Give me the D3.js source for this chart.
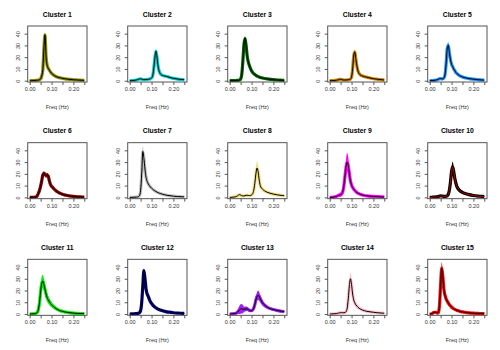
<!DOCTYPE html>
<html><head><meta charset="utf-8">
<script src="https://cdn.jsdelivr.net/npm/d3@7"></script>
<style>body{margin:0;background:#fff}svg{display:block}</style>
</head><body><svg id="c" width="500" height="350"></svg>
<script>
const freq = [0,0.01,0.02,0.03,0.035,0.04,0.045,0.05,0.055,0.06,0.065,0.07,0.075,0.08,0.085,0.09,0.095,0.10,0.105,0.11,0.115,0.12,0.125,0.13,0.135,0.14,0.15,0.16,0.17,0.18,0.20,0.22,0.24,0.25];
const clusterNames = ["Cluster 1","Cluster 2","Cluster 3","Cluster 4","Cluster 5","Cluster 6","Cluster 7","Cluster 8","Cluster 9","Cluster 10","Cluster 11","Cluster 12","Cluster 13","Cluster 14","Cluster 15"];
const bandColors = ["#8B8B00","#00CDCD","#006400","#CD8500","#1E90FF","#8B0000","#BEBEBE","#EEDD82","#FF00FF","#000000","#00EE00","#000080","#A020F0","#FFC0CB","#FF0000"];
const meanColors = ["#000","#000","#000","#000","#000","#000","#000","#000","#000","#B00000","#000","#000","#000","#000","#000"];
const xTicks = [0,0.05,0.10,0.15,0.20,0.25];
const xTickLabels = ["0.00","","0.10","","0.20",""];
const yTicks = [0,10,20,30,40];
const xLabel = "Freq (Hz)";

const mean1 = [0,0,0.2,0.3,0.4,0.5,0.8,1.5,4,9,27,39,20,13,10.5,9,7.5,6.3,5.5,4.7,4.1,3.6,3.2,2.9,2.6,2.4,2,1.7,1.4,1.2,0.8,0.6,0.4,0.3];
const mean2 = [0,0.1,0.3,0.6,0.9,1.2,1.5,1.6,1.3,1.0,0.9,0.9,1.0,1.1,1.2,1.4,1.7,2.3,4,10,19,25,20,12,8,6,4.5,4,3.6,3.0,2,1.4,1,0.8];
const mean3 = [0,0,0.1,0.2,0.3,0.3,0.6,1.5,5,16,30,36,30,21,16,13,10.5,8.5,7,6,5.2,4.5,4,3.5,3.1,2.8,2.3,1.9,1.6,1.3,0.9,0.6,0.4,0.3];
const mean4 = [0,0.1,0.2,0.4,0.6,0.8,1.1,1.2,1.0,0.7,0.6,0.6,0.6,0.7,0.8,1.0,1.4,3,10,21,24.5,18,12,8,6,5,4,3.4,3.0,2.5,1.7,1.2,0.8,0.6];
const mean5 = [0,0.1,0.3,0.6,0.9,1.3,1.7,1.8,1.6,1.6,2.2,5,14,27,30,24,18,14,12,10,8.5,7,6,5.2,4.5,4,3.2,2.6,2.2,1.8,1.3,0.9,0.6,0.5];
const mean6 = [0,0,0.1,0.5,1.5,3.5,6,9.5,14,19,20.5,19.5,18.5,19,18,14,11,9.5,8.5,7.5,6.5,5.7,5,4.4,3.9,3.4,2.7,2.1,1.7,1.3,0.8,0.5,0.3,0.2];
const mean7 = [0,0,0.1,0.2,0.3,0.6,1.5,6,20,39,33,24,17,13.5,11.5,10,8.8,7.8,7,6.2,5.6,5,4.5,4,3.6,3.3,2.7,2.2,1.8,1.5,1,0.7,0.5,0.4];
const mean8 = [0,0.1,0.3,0.7,1.2,2,2.3,2,1.5,1.2,1.2,1.4,1.7,1.8,1.6,1.5,1.6,2,3,6,12,20,25,22,15,10,7,5.5,4.5,3.8,2.8,2.1,1.6,1.4];
const mean9 = [0,0.1,0.3,0.8,1.2,1.6,2,2.4,3,5,10,18,26,30,27,20,14,10.5,8.5,7,5.8,4.8,4,3.5,3,2.6,2,1.6,1.3,1.1,0.8,0.6,0.4,0.3];
const mean10 = [0,0.1,0.2,0.4,0.6,0.8,1.1,1.3,1.2,1.0,0.9,0.9,1.0,1.3,2.5,6,13,22,26,22,16,12,9,7.5,6.3,5.4,4.2,3.4,2.8,2.3,1.6,1.1,0.8,0.6];
const mean11 = [0,0.1,0.2,0.6,1.5,4,10,19,26,28,25,21,17,14,12,10.5,9,8,7,6.2,5.4,4.7,4.1,3.6,3.2,2.8,2.3,1.8,1.5,1.2,0.8,0.5,0.4,0.3];
const mean12 = [0,0.1,0.2,0.4,0.5,0.7,1.2,3,10,24,37,30,21,17,15,12.5,10.5,9,7.8,6.8,6,5.3,4.7,4.2,3.8,3.4,2.8,2.3,1.9,1.6,1.1,0.8,0.6,0.5];
const mean13 = [0,0.1,0.3,0.8,1.5,2.5,3.5,4.3,4.5,4.2,4,4.2,4.4,4.3,3.8,3.2,2.8,2.8,3.5,5,8,12,15,16,15,13,9.5,7.5,6,5,3.8,2.9,2.3,2];
const mean14 = [0,0.1,0.2,0.4,0.6,0.8,1.0,1.2,1.2,1.1,1.1,1.3,2,5,13,24,30,25,17,12,9.5,7.8,6.6,5.6,4.9,4.3,3.4,2.8,2.3,2,1.5,1.1,0.8,0.7];
const mean15 = [0,0.3,1.5,1.5,0.8,1.5,8,25,39,32,21,16,13,11,9.5,8,7,6,5.2,4.5,4,3.5,3.1,2.8,2.5,2.2,1.8,1.5,1.2,1,0.7,0.5,0.4,0.3];

const spread1 = [0.2,0.2,0.2,0.3,0.3,0.3,0.3,0.4,0.6,1,1.2,1,1,0.8,0.7,0.6,0.6,0.5,0.5,0.5,0.4,0.4,0.4,0.4,0.3,0.3,0.3,0.3,0.3,0.3,0.2,0.2,0.2,0.2];
const spread2 = [0.2,0.2,0.3,0.4,0.4,0.5,0.5,0.5,0.5,0.4,0.4,0.4,0.4,0.4,0.4,0.5,0.5,0.6,1,1.5,2,2,2,1.5,1,0.8,0.7,0.6,0.6,0.5,0.5,0.4,0.4,0.4];
const spread3 = [0.2,0.2,0.2,0.3,0.3,0.3,0.4,0.5,1,1.5,1.5,1.5,1.5,1.2,1,0.8,0.7,0.6,0.6,0.5,0.5,0.5,0.4,0.4,0.4,0.4,0.3,0.3,0.3,0.3,0.2,0.2,0.2,0.2];
const spread4 = [0.2,0.2,0.3,0.3,0.4,0.4,0.4,0.4,0.4,0.3,0.3,0.3,0.3,0.3,0.4,0.4,0.5,0.8,1.2,1.5,1.5,1.5,1.2,1,0.8,0.7,0.6,0.5,0.5,0.5,0.4,0.3,0.3,0.3];
const spread5 = [0.2,0.3,0.4,0.5,0.6,0.7,0.8,0.8,0.8,0.8,1,1.5,2.5,3,3,2.5,2,1.8,1.5,1.3,1.2,1.1,1,0.9,0.8,0.7,0.6,0.5,0.5,0.4,0.4,0.3,0.3,0.3];
const spread6 = [0.1,0.1,0.2,0.4,0.8,1.2,1.5,1.6,1.8,1.8,1.8,1.8,1.8,1.8,1.8,1.8,1.6,1.4,1.2,1,0.9,0.8,0.7,0.6,0.6,0.5,0.5,0.4,0.4,0.3,0.3,0.2,0.2,0.2];
const spread7 = [0.1,0.1,0.2,0.2,0.3,0.4,0.8,2,3,4.5,3.5,2.5,2,1.6,1.4,1.2,1.1,1,0.9,0.8,0.8,0.7,0.7,0.6,0.6,0.5,0.5,0.4,0.4,0.3,0.3,0.2,0.2,0.2];
const spread8 = [0.2,0.3,0.4,0.5,0.6,0.7,0.8,0.8,0.6,0.5,0.5,0.5,0.5,0.5,0.5,0.5,0.6,0.8,1.2,2,3.5,5,6,5,3.5,2.5,1.5,1.2,1,0.8,0.7,0.6,0.5,0.5];
const spread9 = [0.2,0.3,0.5,0.8,1,1.2,1.5,1.8,2,2.5,3.5,5,7,8,7,5,3.5,2.5,2,1.6,1.3,1.1,1,0.9,0.8,0.7,0.6,0.5,0.5,0.4,0.4,0.3,0.3,0.3];
const spread10 = [0.2,0.3,0.4,0.5,0.6,0.7,0.7,0.7,0.7,0.6,0.6,0.6,0.7,0.8,1.2,2,3,4,4.5,4,3.5,3,2.5,2,1.8,1.5,1.2,1,0.9,0.8,0.6,0.5,0.4,0.4];
const spread11 = [0.1,0.2,0.3,0.6,1.2,2.5,4,5.5,6,5.5,5,4.5,4,3.5,3,2.6,2.3,2,1.8,1.6,1.4,1.2,1.1,1,0.9,0.8,0.7,0.6,0.5,0.4,0.3,0.3,0.2,0.2];
const spread12 = [0.1,0.1,0.2,0.3,0.3,0.4,0.5,1,1.5,2,1.5,1.5,1.3,1.2,1.1,1,0.9,0.8,0.8,0.7,0.7,0.6,0.6,0.5,0.5,0.5,0.4,0.4,0.4,0.3,0.3,0.3,0.2,0.2];
const spread13 = [0.2,0.3,0.5,1,1.8,2.8,3.5,4,4,3.5,2.5,2,2,1.8,1.5,1.2,1,1,1.2,1.5,2,3,3.5,4,3.8,3.2,2.2,1.6,1.3,1.1,0.9,0.8,0.7,0.7];
const spread14 = [0.2,0.2,0.3,0.4,0.4,0.5,0.5,0.6,0.6,0.6,0.6,0.7,1,1.8,3,4.5,5.5,4.5,3.5,2.5,2,1.7,1.5,1.3,1.2,1.1,0.9,0.8,0.7,0.6,0.5,0.4,0.4,0.4];
const spread15 = [0.2,0.5,1,0.8,0.6,0.8,2,4,5,4.5,3.5,3,2.5,2.2,2,1.8,1.6,1.4,1.2,1.1,1,0.9,0.8,0.7,0.7,0.6,0.5,0.5,0.4,0.4,0.3,0.3,0.2,0.2];

const means = [mean1,mean2,mean3,mean4,mean5,mean6,mean7,mean8,mean9,mean10,mean11,mean12,mean13,mean14,mean15];
const spreads = [spread1,spread2,spread3,spread4,spread5,spread6,spread7,spread8,spread9,spread10,spread11,spread12,spread13,spread14,spread15];

const svg = d3.select("#c");
const font = "Liberation Sans, Arial, Helvetica, sans-serif";
const colW = 100, rowH = 350/3;
const L = 27.7, R = 87, T = 26, B = 82;
const x = d3.scaleLinear().domain([-0.0092, 0.2624]).range([L, R]);
const y = d3.scaleLinear().domain([-1.1, 46.5]).range([B, T]);

clusterNames.forEach((name, i) => {
  const col = i % 5, row = Math.floor(i / 5);
  const g = svg.append("g").attr("transform", `translate(${col*colW},${row*rowH})`);
  const data = freq.map((f, j) => ({f, m: means[i][j], s: spreads[i][j]}));
  const cid = "clip" + i;
  g.append("clipPath").attr("id", cid).append("rect")
    .attr("x", L).attr("y", T).attr("width", R-L).attr("height", B-T);
  const pg = g.append("g").attr("clip-path", `url(#${cid})`);
  const area = d3.area().curve(d3.curveMonotoneX)
    .x(d => x(d.f)).y0(d => y(Math.max(0, d.m - d.s))).y1(d => y(d.m + d.s));
  const line = d3.line().curve(d3.curveMonotoneX).x(d => x(d.f)).y(d => y(d.m));
  pg.append("path").datum(data).attr("d", area).attr("fill", bandColors[i]).attr("stroke", "none");
  pg.append("path").datum(data).attr("d", line).attr("fill", "none")
    .attr("stroke", bandColors[i]).attr("stroke-width", 3.2).attr("stroke-linejoin", "round");
  pg.append("path").datum(data).attr("d", line).attr("fill", "none")
    .attr("stroke", meanColors[i]).attr("stroke-width", 1.0).attr("stroke-linejoin", "round");

  g.append("rect").attr("x", L).attr("y", T).attr("width", R-L).attr("height", B-T)
    .attr("fill", "none").attr("stroke", "#555").attr("stroke-width", 1);

  const xa = d3.axisBottom(x).tickValues(xTicks).tickSize(3).tickPadding(2)
    .tickFormat((d, k) => xTickLabels[k]);
  const gx = g.append("g").attr("transform", `translate(0,${B})`).call(xa);
  gx.select(".domain").remove();
  gx.selectAll(".tick line").attr("stroke", "#555");
  gx.selectAll("text").attr("font-family", font).attr("font-size", 5.5).attr("fill", "#333");

  const ya = d3.axisLeft(y).tickValues(yTicks).tickSize(3).tickFormat(d3.format("d"));
  const gy = g.append("g").attr("transform", `translate(${L},0)`).call(ya);
  gy.select(".domain").remove();
  gy.selectAll(".tick line").attr("stroke", "#555");
  gy.selectAll("text").attr("font-family", font).attr("font-size", 5.5).attr("fill", "#333")
    .attr("x", 0).attr("dy", 0).attr("text-anchor", "middle")
    .attr("transform", "translate(-10,0) rotate(-90)").attr("dominant-baseline", "central");

  g.append("text").attr("x", (L+R)/2).attr("y", 16.5).attr("text-anchor", "middle")
    .attr("font-family", font).attr("font-size", 6.8).attr("font-weight", "bold").attr("fill", "#000").text(name);
  g.append("text").attr("x", (L+R)/2).attr("y", 109).attr("text-anchor", "middle")
    .attr("font-family", font).attr("font-size", 5.5).attr("fill", "#333").text(xLabel);
});
</script></body></html>
